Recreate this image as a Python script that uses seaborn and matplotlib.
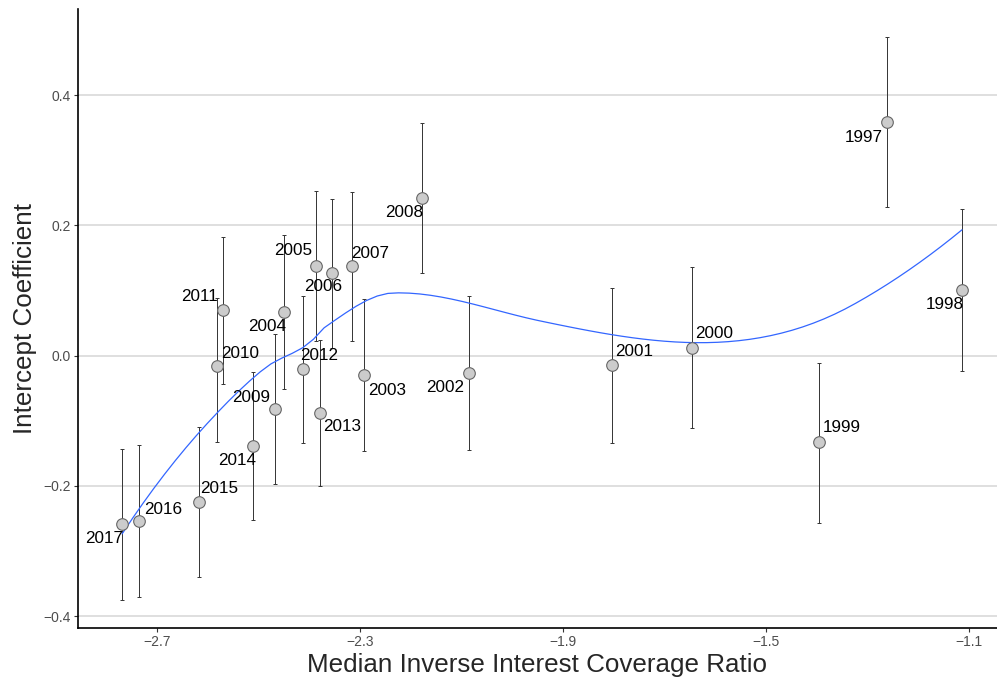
import numpy as np
import pandas as pd
import seaborn as sns
import matplotlib
matplotlib.use('Agg')
import matplotlib.pyplot as plt

# data
years = [2017, 2016, 2015, 2014, 2009, 2004, 2010, 2011, 2012, 2013, 2005,
         2006, 2007, 2003, 2008, 2002, 2001, 2000, 1999, 1997, 1998]
inv_icr = [-2.769, -2.736, -2.617, -2.511, -2.468, -2.450, -2.582, -2.570, -2.412, -2.379, -2.387,
           -2.355, -2.316, -2.292, -2.178, -2.085, -1.803, -1.646, -1.394, -1.261, -1.113]
coef = [-0.258, -0.254, -0.224, -0.139, -0.082, 0.067, -0.016, 0.070, -0.020, -0.088, 0.138,
        0.127, 0.138, -0.030, 0.242, -0.027, -0.014, 0.012, -0.132, 0.359, 0.101]
lower = [-0.375, -0.370, -0.340, -0.252, -0.197, -0.051, -0.132, -0.043, -0.134, -0.200, 0.023,
         0.012, 0.023, -0.146, 0.127, -0.145, -0.134, -0.111, -0.257, 0.228, -0.023]
upper = [-0.143, -0.137, -0.109, -0.025, 0.033, 0.185, 0.088, 0.182, 0.092, 0.024, 0.253,
         0.240, 0.251, 0.087, 0.357, 0.092, 0.104, 0.136, -0.011, 0.489, 0.225]

# label offsets (pixels, right / down) so the year labels sit like in the original
label_dx = [-18, 24, 20, -16, -24, -17, 23, -24, 16, 22, -23, -9, 18, 23, -18, -24, 22, 22, 22, -23, -17]
label_dy = [15, -12, -13, 14, -12, 15, -13, -14, -13, 14, -15, 14, -12, 15, 15, 14, -13, -14, -14, 16, 15]

df = pd.DataFrame({'year': years, 'x': inv_icr, 'y': coef, 'lo': lower, 'hi': upper})


def local_fit(x, y, x0, span):
    '''local quadratic fit with tricube weights: value and slope at x0'''
    n = len(x)
    q = int(np.floor(n * span))
    d = np.abs(x - x0)
    dmax = np.sort(d)[q - 1]
    w = np.clip(1 - (d / dmax) ** 3, 0, None) ** 3
    X = np.column_stack([np.ones(n), x - x0, (x - x0) ** 2])
    W = np.diag(w)
    beta = np.linalg.solve(X.T @ W @ X, X.T @ W @ y)
    return beta[0], beta[1]


def loess(x, y, grid, span=0.75, cell=0.2):
    '''loess like R: fits at kd-tree vertices, cubic hermite in between'''
    xs = np.sort(x)
    n = len(xs)
    fc = int(np.floor(n * span * cell))
    mu = 0.005 * (xs[-1] - xs[0])
    verts = [xs[0] - mu, xs[-1] + mu]

    def split(l, u):
        if u - l + 1 <= fc:
            return
        m = (l + u) // 2
        verts.append((xs[m] + xs[m + 1]) / 2)
        split(l, m)
        split(m + 1, u)

    split(0, n - 1)
    verts = np.sort(np.array(verts))
    fits = np.array([local_fit(x, y, v, span) for v in verts])
    out = []
    for g in grid:
        i = min(np.searchsorted(verts, g, side='right') - 1, len(verts) - 2)
        x0, x1 = verts[i], verts[i + 1]
        h = x1 - x0
        t = (g - x0) / h
        h00 = 2 * t ** 3 - 3 * t ** 2 + 1
        h10 = t ** 3 - 2 * t ** 2 + t
        h01 = -2 * t ** 3 + 3 * t ** 2
        h11 = t ** 3 - t ** 2
        out.append(h00 * fits[i, 0] + h10 * h * fits[i, 1] + h01 * fits[i + 1, 0] + h11 * h * fits[i + 1, 1])
    return np.array(out)


grid = np.linspace(df.x.min(), df.x.max(), 80)
smooth = pd.DataFrame({'x': grid, 'y': loess(df.x.values, df.y.values, grid)})

sns.set_style('white')
plt.rcParams['font.family'] = ['Liberation Sans', 'DejaVu Sans']

fig = plt.figure(figsize=(9.97, 6.82), dpi=100)
ax = fig.add_axes([0.0782, 0.0792, 0.9218, 0.9076])

for yv in [-0.4, -0.2, 0.0, 0.2, 0.4]:
    ax.axhline(yv, color='#d9d9d9', lw=1.2, zorder=0)

ax.errorbar(df.x, df.y, yerr=[df.y - df.lo, df.hi - df.y], fmt='none',
            ecolor='#333333', elinewidth=0.7, capsize=1.5, capthick=0.7, zorder=1)
sns.lineplot(data=smooth, x='x', y='y', color='#3366FF', lw=0.9, ax=ax, zorder=2)
sns.scatterplot(data=df, x='x', y='y', s=70, color='#cccccc', edgecolor='#666666',
                linewidth=0.8, ax=ax, zorder=3)

for i in range(len(df)):
    ax.annotate(str(years[i]), (inv_icr[i], coef[i]),
                xytext=(label_dx[i] * 0.72, -label_dy[i] * 0.72), textcoords='offset points',
                ha='center', va='center', fontsize=12.3, color='black', zorder=4)

ax.set_xlim(-2.856, -1.044)
ax.set_ylim(-0.418, 0.532)
ax.set_xticks([-2.7, -2.3, -1.9, -1.5, -1.1])
ax.set_xticklabels(['\u22122.7', '\u22122.3', '\u22121.9', '\u22121.5', '\u22121.1'])
ax.set_yticks([-0.4, -0.2, 0.0, 0.2, 0.4])
ax.set_yticklabels(['\u22120.4', '\u22120.2', '0.0', '0.2', '0.4'])
ax.tick_params(axis='both', length=3, width=0.8, color='#333333', labelcolor='#4d4d4d',
               labelsize=10, pad=2, bottom=True, left=True)

for side in ['top', 'right']:
    ax.spines[side].set_visible(False)
for side in ['left', 'bottom']:
    ax.spines[side].set_color('black')
    ax.spines[side].set_linewidth(1.2)

ax.set_xlabel('Median Inverse Interest Coverage Ratio', fontsize=18.7, labelpad=3)
ax.set_ylabel('Intercept Coefficient', fontsize=18.7, labelpad=5)

fig.savefig('out.png', dpi=100)
